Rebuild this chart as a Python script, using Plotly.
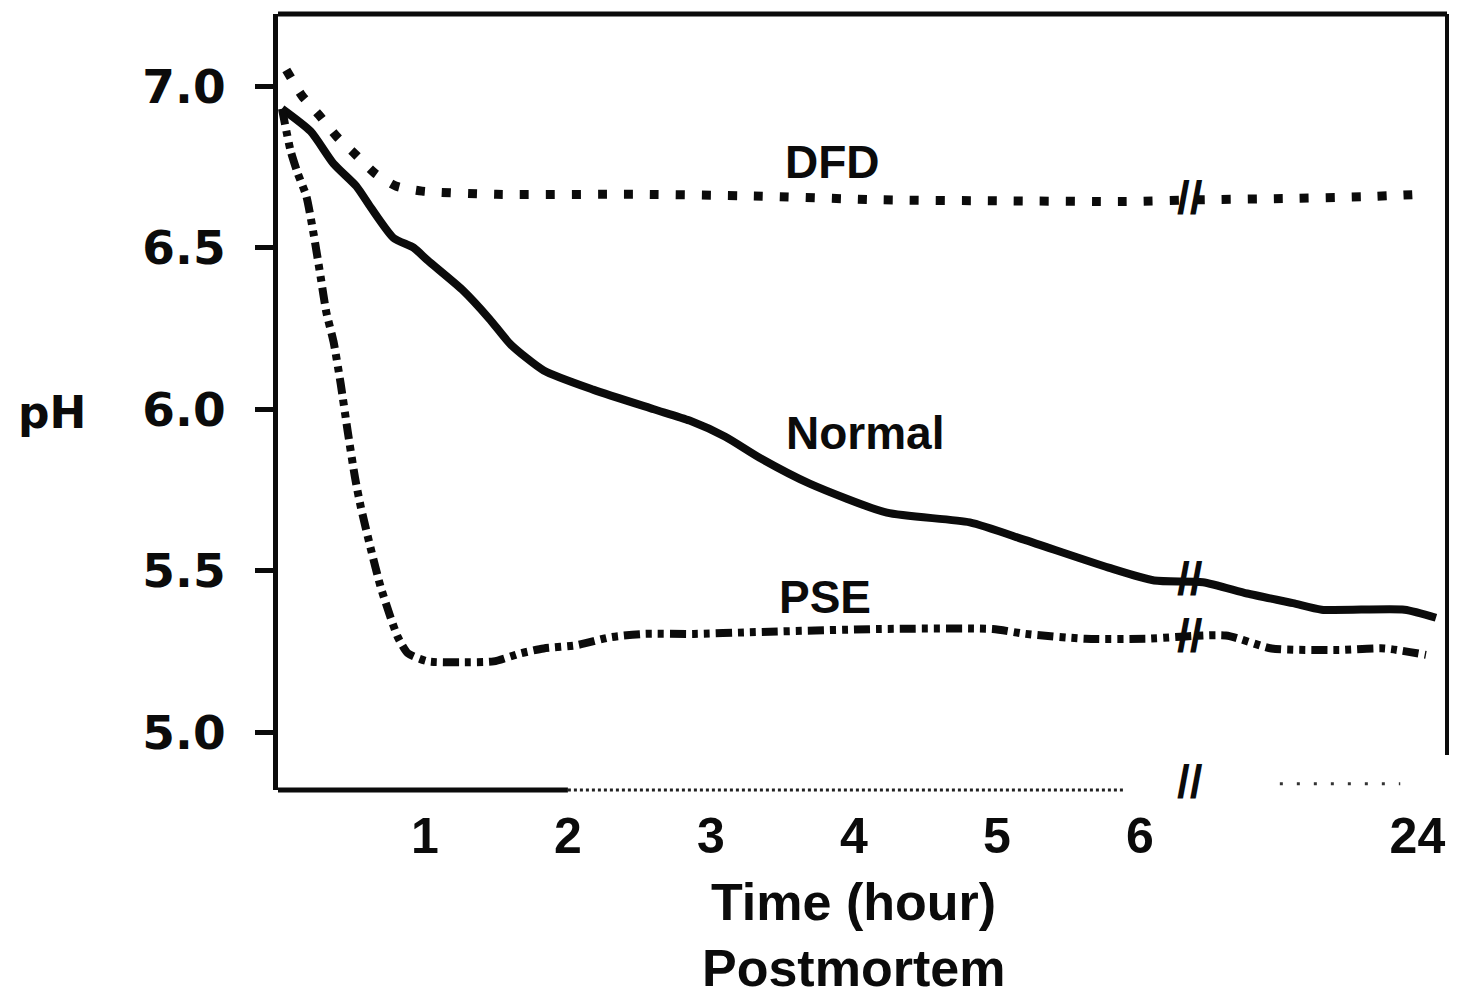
import plotly.graph_objects as go

# ---------------- data (x in axis-position units: 0-6 = hours, 7.94 = 24 h after the break) ----------------
normal_x = [0, 0.2, 0.36, 0.52, 0.62, 0.78, 0.92, 1.02, 1.26, 1.45, 1.6, 1.83, 2.18, 2.6, 2.85, 3.1, 3.34,
            3.69, 4.23, 4.81, 5.2, 5.78, 6.1, 6.44, 6.75, 7.07, 7.27, 7.85, 8.07]
normal_y = [6.93, 6.86, 6.76, 6.69, 6.625, 6.53, 6.50, 6.46, 6.37, 6.28, 6.20, 6.12, 6.06, 6.0, 5.965, 5.915, 5.85,
            5.77, 5.68, 5.65, 5.595, 5.51, 5.47, 5.465, 5.43, 5.40, 5.38, 5.38, 5.355]

dfd_x = [0.03, 0.14, 0.26, 0.38, 0.51, 0.65, 0.8, 0.98, 1.5, 2.5, 3.3, 4.2, 5.0, 5.9, 6.4, 7.0, 7.6, 7.95]
dfd_y = [7.05, 6.97, 6.91, 6.845, 6.79, 6.73, 6.69, 6.675, 6.665, 6.665, 6.66, 6.648, 6.645, 6.643, 6.648,
         6.652, 6.658, 6.665]

pse_x = [0, 0.06, 0.11, 0.17, 0.22, 0.27, 0.31, 0.36, 0.41, 0.46, 0.51, 0.55, 0.62, 0.69, 0.76, 0.81, 0.88,
         1.02, 1.25, 1.48, 1.67, 1.83, 2.06, 2.3, 2.53, 2.88, 3.27, 4.17, 4.97, 5.2, 5.62, 6.04, 6.6, 6.92,
         7.39, 7.71, 8.0]
pse_y = [6.93, 6.80, 6.73, 6.66, 6.545, 6.41, 6.30, 6.21, 6.08, 5.93, 5.79, 5.70, 5.57, 5.45, 5.355, 5.295,
         5.245, 5.22, 5.217, 5.22, 5.245, 5.26, 5.27, 5.295, 5.305, 5.305, 5.31, 5.32, 5.32, 5.305, 5.29, 5.29,
         5.30, 5.26, 5.255, 5.26, 5.24]

x_tick_vals = [1, 2, 3, 4, 5, 6, 7.94]
x_tick_text = ["1", "2", "3", "4", "5", "6", "24"]
y_tick_vals = [5.0, 5.5, 6.0, 6.5, 7.0]
y_tick_text = ["5.0", "5.5", "6.0", "6.5", "7.0"]

curve_labels = ["DFD", "Normal", "PSE"]
label_x = [3.85, 4.08, 3.80]
label_y = [6.765, 5.926, 5.418]

break_x = 6.35
break_y = [6.655, 5.475, 5.30]

INK = "#0b0b0b"
SANS = "Liberation Sans, Arial, Helvetica, sans-serif"
WIDE = "DejaVu Sans, Verdana, sans-serif"

fig = go.Figure()
fig.add_trace(go.Scatter(x=dfd_x, y=dfd_y, mode="lines", name="DFD",
                         line=dict(color=INK, width=9, dash="9px,17px", shape="spline", smoothing=0.6)))
fig.add_trace(go.Scatter(x=normal_x, y=normal_y, mode="lines", name="Normal",
                         line=dict(color=INK, width=8, shape="spline", smoothing=0.6)))
fig.add_trace(go.Scatter(x=pse_x, y=pse_y, mode="lines", name="PSE",
                         line=dict(color=INK, width=8, dash="16px,6px,6px,6px,6px,6px",
                                   shape="spline", smoothing=0.6)))

for t, x, y in zip(curve_labels, label_x, label_y):
    fig.add_annotation(x=x, y=y, xref="x", yref="y", text="<b>%s</b>" % t, showarrow=False,
                       font=dict(family=SANS, size=46, color=INK), xanchor="center", yanchor="middle")

for y in break_y:
    fig.add_annotation(x=break_x, y=y, xref="x", yref="y", text="<b>//</b>", showarrow=False,
                       font=dict(family=SANS, size=46, color=INK), xanchor="center", yanchor="middle")
fig.add_annotation(x=break_x, y=0.01, xref="x", yref="paper", text="<b>//</b>", showarrow=False,
                   font=dict(family=SANS, size=46, color=INK), xanchor="center", yanchor="middle")

# axis titles
fig.add_annotation(x=0.492, y=-0.144, xref="paper", yref="paper", text="<b>Time (hour)</b>", showarrow=False,
                   font=dict(family=SANS, size=52, color=INK), xanchor="center", yanchor="middle")
fig.add_annotation(x=0.492, y=-0.229, xref="paper", yref="paper", text="<b>Postmortem</b>", showarrow=False,
                   font=dict(family=SANS, size=52, color=INK), xanchor="center", yanchor="middle")
fig.add_annotation(x=-0.193, y=0.487, xref="paper", yref="paper", text="<b>pH</b>", showarrow=False,
                   font=dict(family=WIDE, size=44, color=INK), xanchor="center", yanchor="middle")

# frame pieces
fig.add_shape(type="line", xref="paper", yref="paper", x0=0, x1=1, y0=1, y1=1,
              line=dict(color=INK, width=5))
fig.add_shape(type="line", xref="paper", yref="paper", x0=1, x1=1, y0=0.045, y1=1,
              line=dict(color=INK, width=4))
fig.add_shape(type="line", xref="paper", yref="paper", x0=0, x1=0.248, y0=0, y1=0,
              line=dict(color=INK, width=5))
fig.add_shape(type="line", xref="paper", yref="paper", x0=0.248, x1=0.725, y0=0, y1=0,
              line=dict(color="#222222", width=3, dash="dot"))
fig.add_shape(type="line", xref="paper", yref="paper", x0=0.857, x1=0.96, y0=0.008, y1=0.008,
              line=dict(color="#333333", width=3, dash="3px,14px"))

fig.update_layout(
    width=1461, height=1000,
    margin=dict(l=278, r=14, t=14, b=210),
    plot_bgcolor="white", paper_bgcolor="white",
    showlegend=False,
    xaxis=dict(range=[-0.028, 8.147], tickmode="array", tickvals=x_tick_vals, ticktext=x_tick_text,
               showgrid=False, zeroline=False, showline=False, ticks="",
               tickfont=dict(family=SANS, size=50, color=INK, weight="bold"), ticklabelstandoff=12),
    yaxis=dict(range=[4.822, 7.223], tickmode="array", tickvals=y_tick_vals, ticktext=y_tick_text,
               showgrid=False, zeroline=False, showline=True, linecolor=INK, linewidth=5,
               ticks="outside", ticklen=18, tickwidth=5, tickcolor=INK,
               tickfont=dict(family=WIDE, size=47, color=INK, weight="bold"), ticklabelstandoff=20),
)

fig.write_html("out.html")
